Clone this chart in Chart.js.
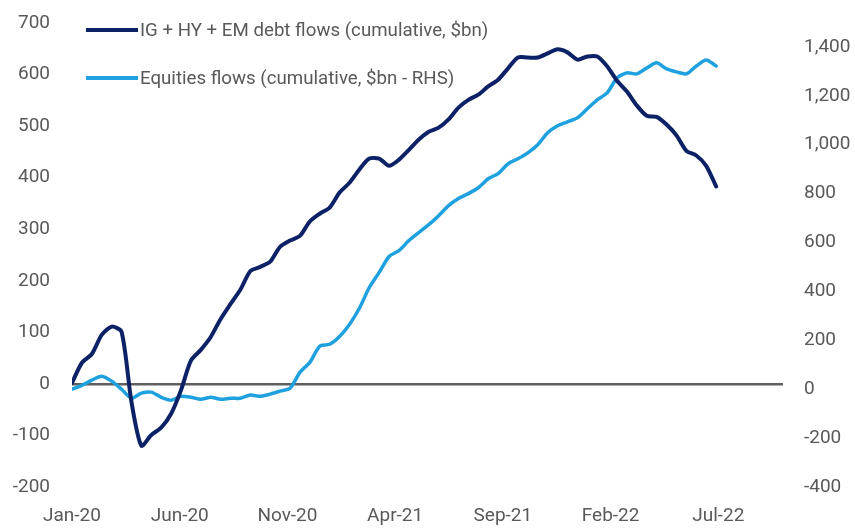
<!DOCTYPE html>
<html>
<head>
<meta charset="utf-8">
<title>Debt vs equity flows</title>
<script src="https://cdn.jsdelivr.net/npm/chart.js@4.4.1/dist/chart.umd.min.js"></script>
<style>
    html, body { margin: 0; padding: 0; background: #fff; }
    #wrap { width: 855px; height: 528px; }
</style>
</head>
<body>
<div id="wrap"><canvas id="FlowsChart" width="855" height="528"></canvas></div>
<script>
// x axis tick labels, one every 5 months
const tickLabels = ['Jan-20', 'Jun-20', 'Nov-20', 'Apr-21', 'Sep-21', 'Feb-22', 'Jul-22'];

// cumulative flows, one value every 2 weeks from early Jan-20
const debtFlows = [
    2, 41, 58, 95, 111, 101, -35, -120, -99, -85,
    -58, -12, 45, 66, 91, 126, 155, 183, 219, 227,
    237, 266, 278, 287, 315, 330, 342, 371, 390, 416,
    437, 437, 423, 435, 454, 474, 489, 497, 513, 536,
    551, 561, 577, 590, 612, 633, 633, 633, 641, 649,
    643, 629, 635, 635, 616, 588, 567, 540, 520, 518,
    503, 482, 452, 443, 423, 383
];

const equityFlows = [
    0, 16, 37, 53, 33, 0, -37, -16, -12, -33,
    -45, -29, -33, -41, -33, -41, -37, -37, -24, -29,
    -20, -8, 4, 69, 110, 176, 184, 216, 265, 331,
    416, 478, 543, 567, 608, 641, 673, 710, 751, 780,
    800, 824, 861, 882, 922, 943, 967, 1000, 1049, 1078,
    1094, 1110, 1147, 1184, 1212, 1273, 1294, 1290, 1314, 1335,
    1310, 1298, 1290, 1322, 1347, 1322
];

const WEEKS_PER_MONTH = 52.18 / 12;
const FONT_FAMILY = 'Roboto, "Noto Sans", sans-serif';

function toPoints(values) {
    return values.map(function (v, i) {
        return { x: i * 2, y: v };
    });
}

// y axes would otherwise reserve tick padding above/below the plot
function fitYAxis(scale) {
    scale.width = 72;
    scale.paddingTop = 0;
    scale.paddingBottom = 0;
}

// legend drawn inside the plot, top left
const legendLines = {
    id: 'legendLines',
    afterDraw: function (chart) {
        const c = chart.ctx;
        const rows = [30, 78];
        c.save();
        chart.data.datasets.forEach(function (ds, i) {
            c.strokeStyle = ds.borderColor;
            c.lineWidth = 4;
            c.beginPath();
            c.moveTo(86, rows[i]);
            c.lineTo(138, rows[i]);
            c.stroke();
            c.fillStyle = '#58595b';
            c.font = '18.7px ' + FONT_FAMILY;
            c.textBaseline = 'middle';
            c.fillText(ds.label, 140, rows[i] + 1);
        });
        c.restore();
    }
};

window.onload = function () {
    const ctx = document.getElementById('FlowsChart').getContext('2d');
    const tickFont = { family: FONT_FAMILY, size: 19 };

    const FlowsChart = new Chart(ctx, {
        type: 'line',
        data: {
            datasets: [{
                label: 'IG + HY + EM debt flows (cumulative, $bn)',
                data: toPoints(debtFlows),
                borderColor: '#0d2266',
                borderWidth: 4,
                yAxisID: 'y'
            }, {
                label: 'Equities flows (cumulative, $bn - RHS)',
                data: toPoints(equityFlows),
                borderColor: '#1fa0df',
                borderWidth: 3.5,
                yAxisID: 'y1'
            }]
        },
        options: {
            responsive: false,
            animation: false,
            layout: { padding: { top: 23, left: 0, right: 0, bottom: 0 } },
            elements: {
                point: { radius: 0 },
                line: { tension: 0.25, borderCapStyle: 'round', borderJoinStyle: 'round' }
            },
            plugins: {
                legend: { display: false },
                tooltip: { enabled: false }
            },
            scales: {
                x: {
                    type: 'linear',
                    min: 0,
                    max: 143.5,
                    grid: { display: false, drawTicks: false },
                    border: { display: false },
                    afterBuildTicks: function (scale) {
                        scale.ticks = tickLabels.map(function (lab, k) {
                            return { value: k * 5 * WEEKS_PER_MONTH };
                        });
                    },
                    afterFit: function (scale) { scale.height = 41; },
                    ticks: {
                        autoSkip: false,
                        maxRotation: 0,
                        padding: 18,
                        color: '#58595b',
                        font: tickFont,
                        callback: function (value, index) { return tickLabels[index]; }
                    }
                },
                y: {
                    position: 'left',
                    min: -200,
                    max: 700,
                    border: { display: false },
                    grid: {
                        drawTicks: false,
                        lineWidth: 2.5,
                        color: function (c) { return c.tick && c.tick.value === 0 ? '#5f5f5f' : 'rgba(0,0,0,0)'; }
                    },
                    afterFit: fitYAxis,
                    ticks: {
                        stepSize: 100,
                        padding: 22,
                        color: '#58595b',
                        font: tickFont
                    }
                },
                y1: {
                    position: 'right',
                    min: -400,
                    max: 1498,
                    border: { display: false },
                    grid: { display: false, drawTicks: false },
                    afterBuildTicks: function (scale) {
                        scale.ticks = scale.ticks.filter(function (t) { return t.value <= 1400 && t.value % 200 === 0; });
                    },
                    afterFit: fitYAxis,
                    ticks: {
                        stepSize: 200,
                        padding: 21,
                        color: '#58595b',
                        font: tickFont,
                        callback: function (value) { return value.toLocaleString('en-US'); }
                    }
                }
            }
        },
        plugins: [legendLines]
    });
};
</script>
</body>
</html>
